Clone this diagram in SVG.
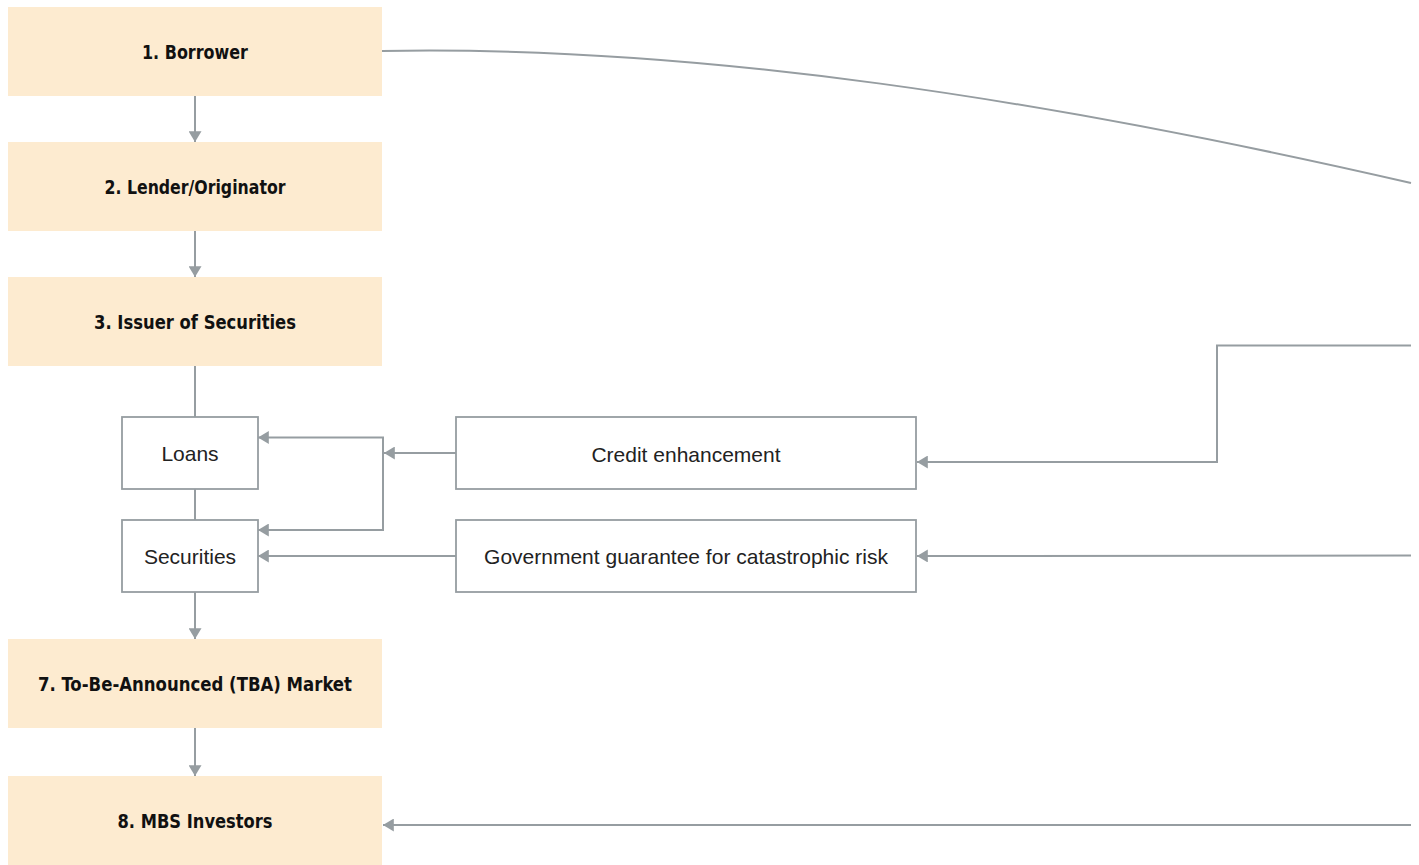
<svg xmlns="http://www.w3.org/2000/svg" width="1419" height="865" viewBox="0 0 1419 865">
<style>
.main{fill:#fdebd0;}
.box{fill:#fff;stroke:#969da1;stroke-width:1.8;}
.bt{font-family:"DejaVu Sans Condensed","Liberation Sans",sans-serif;font-weight:bold;font-size:20px;fill:#111;text-anchor:middle;}
.rt{font-family:"Liberation Sans",Arial,sans-serif;font-size:21px;fill:#222;text-anchor:middle;}
.ln{fill:none;stroke:#969da1;stroke-width:2;}
</style>
<defs>
<marker id="ah" viewBox="0 0 10 12" refX="10" refY="6" markerWidth="11" markerHeight="13" markerUnits="userSpaceOnUse" orient="auto">
<path d="M0,0 L10,6 L0,12 Z" fill="#969da1"/>
</marker>
</defs>
<g id="connectors">
<path class="ln" d="M195,96 V142" marker-end="url(#ah)"/>
<path class="ln" d="M195,231 V277" marker-end="url(#ah)"/>
<path class="ln" d="M195,366 V417"/>
<path class="ln" d="M195,489 V520"/>
<path class="ln" d="M195,592 V639" marker-end="url(#ah)"/>
<path class="ln" d="M195,728 V776" marker-end="url(#ah)"/>
<path class="ln" d="M456,453 H384" marker-end="url(#ah)"/>
<path class="ln" d="M383,453 V437.5 H258" marker-end="url(#ah)"/>
<path class="ln" d="M383,453 V530 H258" marker-end="url(#ah)"/>
<path class="ln" d="M456,556 H258" marker-end="url(#ah)"/>
<path class="ln" d="M382,51 C700,45 1050,100 1411,183"/>
<path class="ln" d="M1411,345.5 H1217 V462 H917" marker-end="url(#ah)"/>
<path class="ln" d="M1411,555.5 L917,556" marker-end="url(#ah)"/>
<path class="ln" d="M1411,825 H383" marker-end="url(#ah)"/>
</g>
<g id="n1"><rect class="main" x="8" y="7" width="374" height="89"/><text class="bt" x="195" y="59" textLength="106" lengthAdjust="spacingAndGlyphs">1. Borrower</text></g>
<g id="n2"><rect class="main" x="8" y="142" width="374" height="89"/><text class="bt" x="195" y="194" textLength="181" lengthAdjust="spacingAndGlyphs">2. Lender/Originator</text></g>
<g id="n3"><rect class="main" x="8" y="277" width="374" height="89"/><text class="bt" x="195" y="329" textLength="202" lengthAdjust="spacingAndGlyphs">3. Issuer of Securities</text></g>
<g id="n7"><rect class="main" x="8" y="639" width="374" height="89"/><text class="bt" x="195" y="691" textLength="314" lengthAdjust="spacingAndGlyphs">7. To-Be-Announced (TBA) Market</text></g>
<g id="n8"><rect class="main" x="8" y="776" width="374" height="89"/><text class="bt" x="195" y="828" textLength="155" lengthAdjust="spacingAndGlyphs">8. MBS Investors</text></g>
<g id="loans"><rect class="box" x="122" y="417" width="136" height="72"/><text class="rt" x="190" y="461">Loans</text></g>
<g id="securities"><rect class="box" x="122" y="520" width="136" height="72"/><text class="rt" x="190" y="564">Securities</text></g>
<g id="credit"><rect class="box" x="456" y="417" width="460" height="72"/><text class="rt" x="686" y="462">Credit enhancement</text></g>
<g id="govt"><rect class="box" x="456" y="520" width="460" height="72"/><text class="rt" x="686" y="564">Government guarantee for catastrophic risk</text></g>
</svg>
